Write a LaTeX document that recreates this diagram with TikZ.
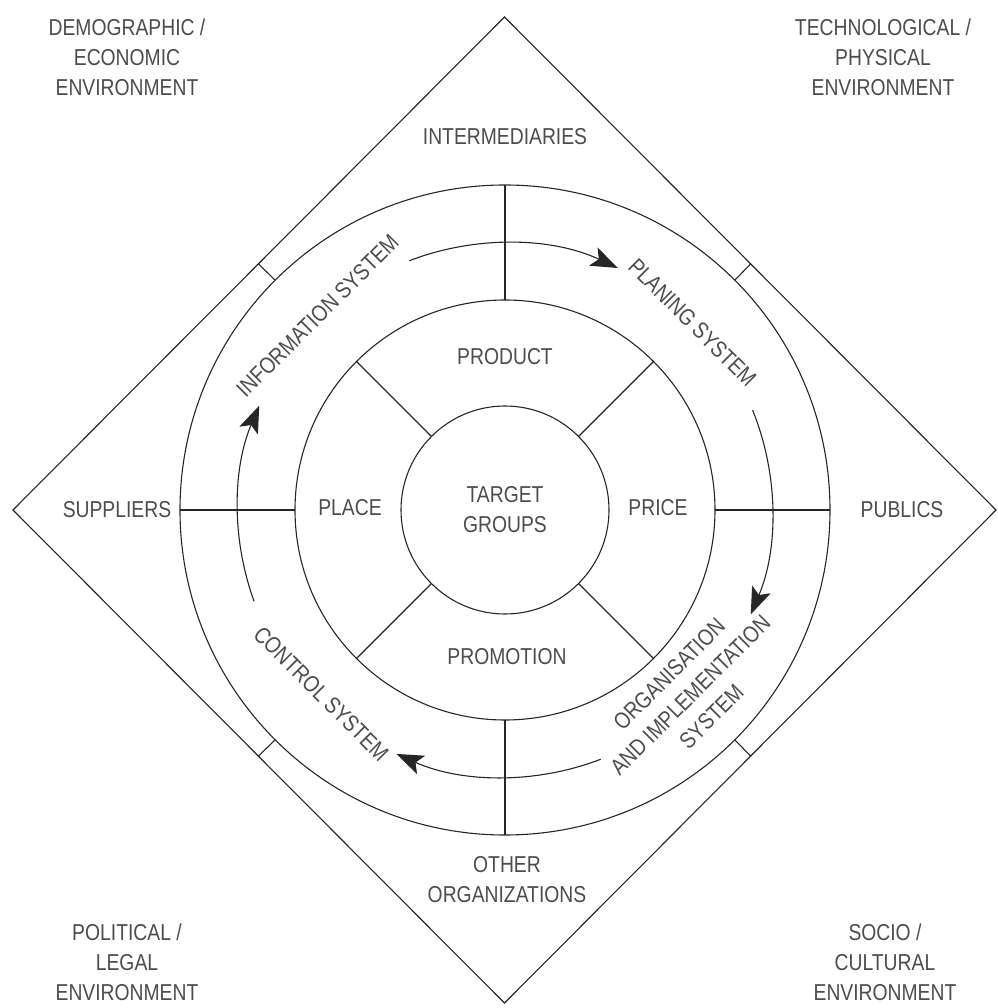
\documentclass[tikz,border=0pt]{standalone}
\usepackage{fontspec}
\setmainfont[FakeStretch=0.84]{Liberation Sans}
\usetikzlibrary{shapes.geometric,arrows.meta}

\begin{document}
\begin{tikzpicture}[x=1pt, y=1pt, line width=1.1pt, draw=black!85,
  ring/.style={circle, draw, outer sep=0pt, inner sep=0pt},
  lbl/.style={text=black!70, font=\fontsize{23}{30}\selectfont, align=center, inner sep=0pt},
  flow/.style={-{Stealth[length=27pt,width=20pt,inset=6pt]}}]
\useasboundingbox (-505,-498) rectangle (492,510);
% diamond and circles
\node[diamond, draw, outer sep=0pt, inner sep=0pt, minimum width=983pt, minimum height=986pt] (D) at (-0.5,0) {};
\node[ring, minimum size=650pt] (O) at (0,0) {};
\node[ring, minimum size=420pt] (M) at (0,0) {};
\node[ring, minimum size=208pt, lbl, draw=black!85] (T) at (0,0) {TARGET\\GROUPS};
% spokes
\foreach \a in {45,135,225,315} \draw (T.\a) -- (M.\a);
\foreach \a in {0,90,180,270} \draw (M.\a) -- (O.\a);
\foreach \a in {45,135,225,315} \draw (O.\a) -- (D.\a);
% marketing mix
\node[lbl] (prod) at (0,153) {PRODUCT};
\node[lbl] (place) at (-155,2) {PLACE};
\node[lbl] (price) at (153,2) {PRICE};
\node[lbl] (promo) at (2,-147) {PROMOTION};
% systems
\node[lbl, rotate=45] (info) at (134:270) {INFORMATION SYSTEM};
\node[lbl, rotate=-45] (plan) at (45:265) {PLANING SYSTEM};
\node[lbl, rotate=45] (org) at (-45:262) {ORGANISATION\\AND IMPLEMENTATION\\SYSTEM};
\node[lbl, rotate=-45] (ctrl) at (225:260) {CONTROL SYSTEM};
\draw[flow] (111:267) arc[start angle=111, end angle=65, radius=267];
\draw[flow] (22:267) arc[start angle=22, end angle=-23, radius=267];
\draw[flow] (-69:267) arc[start angle=-69, end angle=-114, radius=267];
\draw[flow] (200:267) arc[start angle=200, end angle=157, radius=267];
% market partners
\node[lbl] (inter) at (0,373) {INTERMEDIARIES};
\node[lbl] (supp) at (-388,0) {SUPPLIERS};
\node[lbl] (pub) at (397,0) {PUBLICS};
\node[lbl] (other) at (2,-370) {OTHER\\ORGANIZATIONS};
% environments
\node[lbl] (demo) at (-378,453) {DEMOGRAPHIC /\\ECONOMIC\\ENVIRONMENT};
\node[lbl] (tech) at (378,453) {TECHNOLOGICAL /\\PHYSICAL\\ENVIRONMENT};
\node[lbl] (pol) at (-378,-452) {POLITICAL /\\LEGAL\\ENVIRONMENT};
\node[lbl] (socio) at (380,-452) {SOCIO /\\CULTURAL\\ENVIRONMENT};
\end{tikzpicture}
\end{document}
